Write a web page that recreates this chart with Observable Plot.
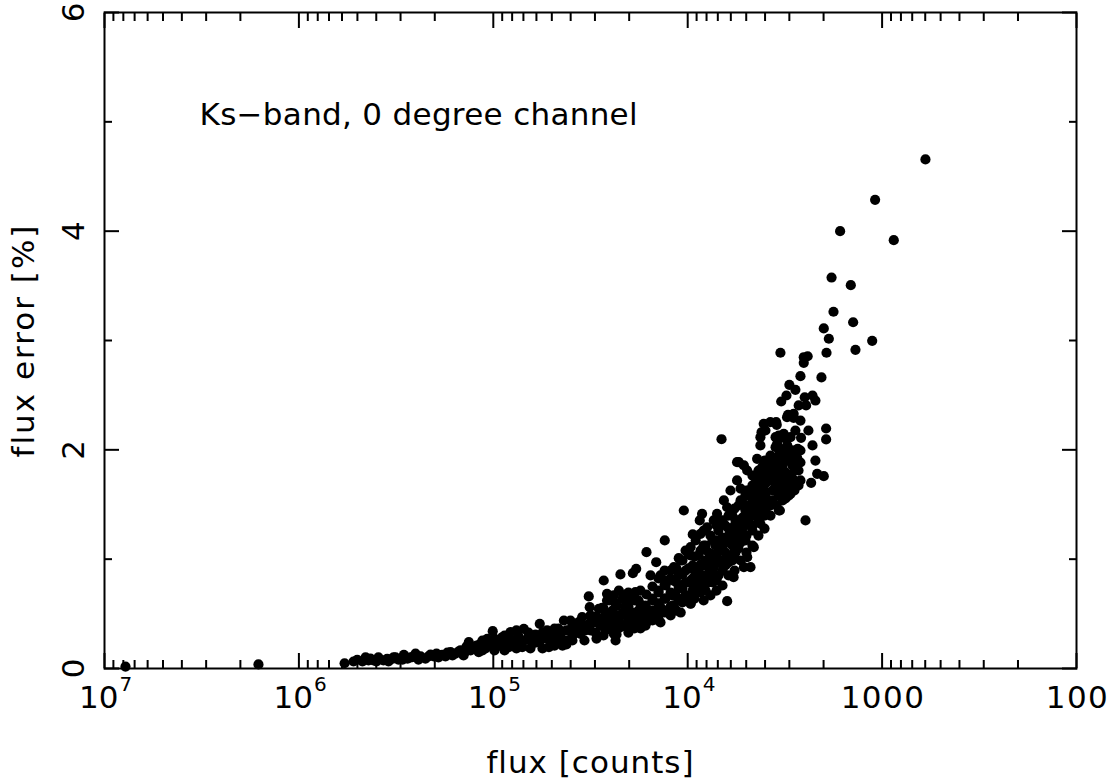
<!DOCTYPE html>
<html><head><meta charset="utf-8">
<script src="https://cdn.jsdelivr.net/npm/d3@7"></script>
<script src="https://cdn.jsdelivr.net/npm/@observablehq/plot@0.6"></script>
<style>body{margin:0;background:#fff} #chart{width:1114px;height:780px}</style>
</head><body><div id="chart"></div>
<script>
// Each point: [log10(flux in counts), flux error in %]
const tailPoints = [
  [6.892,0.018],[6.208,0.037],[5.765,0.048],[5.700,0.080],[5.657,0.103],[5.616,0.073],[5.565,0.073],[5.520,0.089],
  [5.546,0.089],[5.503,0.103],[5.460,0.125],[5.417,0.103],[5.374,0.110],[5.306,0.110],[5.263,0.125],[5.220,0.149],
  [5.169,0.165],[5.126,0.241],[5.075,0.149],[5.673,0.064],[5.632,0.091],[5.591,0.101],[5.539,0.064],[5.488,0.082],
  [5.441,0.091],[5.400,0.137],[5.349,0.091],[5.323,0.128],[5.282,0.101],[5.246,0.110],[5.195,0.137],[5.153,0.119],
  [5.117,0.165],[5.138,0.201],
  [5.719,0.064],[5.642,0.073],[5.601,0.064],[5.513,0.101],[5.467,0.082],[5.426,0.101],[5.385,0.082],[5.333,0.110],
  [5.292,0.137],[5.236,0.146],[5.210,0.119],[5.179,0.155],[5.148,0.146],[5.102,0.192]
];
const lowBandPoints = [
  [5.066,0.226],[5.031,0.272],[5.003,0.341],[4.954,0.286],[4.963,0.210],[4.912,0.332],[4.920,0.195],[4.843,0.363],
  [4.851,0.195],[4.800,0.226],[4.761,0.409],[4.723,0.348],[4.714,0.195],[4.671,0.256],[4.637,0.439],[4.603,0.439],
  [4.620,0.256],[4.543,0.469],[4.509,0.659],[4.504,0.561],[4.551,0.317],[4.483,0.423],[4.457,0.546],
  [5.040,0.183],[5.014,0.238],[4.989,0.192],[4.937,0.256],[4.886,0.229],[4.870,0.293],[4.824,0.274],[4.783,0.311],
  [4.757,0.256],[4.696,0.320],[4.665,0.366],[4.644,0.210],[4.593,0.302],[4.577,0.366],[4.526,0.348],[4.500,0.421],
  [4.474,0.329],[4.469,0.476],[4.449,0.393],[4.819,0.329],[4.731,0.284],
  [5.086,0.210],[5.056,0.165],[5.056,0.256],[5.025,0.210],[4.994,0.165],[4.994,0.274],[4.973,0.238],[4.942,0.165],
  [4.942,0.302],[4.901,0.256],[4.881,0.183],[4.881,0.348],[4.840,0.256],[4.809,0.183],[4.809,0.302],[4.778,0.238],
  [4.747,0.329],[4.747,0.183],[4.711,0.256],[4.685,0.210],[4.685,0.366],[4.654,0.293],[4.624,0.348],[4.624,0.220],
  [4.593,0.393],[4.593,0.256],[4.562,0.329],[4.562,0.421],[4.531,0.256],[4.531,0.393],[4.500,0.348],[4.500,0.485],
  [4.469,0.274],[4.469,0.421]
];
const midBandPoints = [
  [4.432,0.805],[4.415,0.683],[4.380,0.668],[4.354,0.713],[4.312,0.683],[4.269,0.698],[4.346,0.860],[4.265,0.912],
  [4.282,0.872],[4.212,1.064],[4.191,0.851],[4.162,0.972],[4.118,1.171],[4.046,1.009],[4.011,1.079],[3.974,1.226],
  [4.020,1.445],[3.926,1.415],[3.938,1.354],[4.440,0.555],[4.380,0.317],
  [4.423,0.485],[4.423,0.393],[4.423,0.348],[4.387,0.530],[4.387,0.421],[4.356,0.457],[4.356,0.366],
  [4.320,0.576],[4.320,0.485],[4.320,0.393],[4.284,0.512],[4.284,0.421],[4.253,0.622],[4.253,0.530],[4.253,0.439],
  [4.217,0.576],[4.217,0.485],[4.217,0.393],[4.181,0.640],[4.181,0.530],[4.181,0.439],[4.150,0.713],[4.150,0.595],
  [4.150,0.485],[4.114,0.759],[4.114,0.640],[4.114,0.530],[4.078,0.805],[4.078,0.668],[4.078,0.576],[4.047,0.851],
  [4.047,0.732],[4.047,0.622],[4.011,0.896],[4.011,0.787],[4.011,0.668],[3.975,0.942],[3.975,0.823],[3.975,0.713],
  [3.944,1.034],[3.944,0.896],[3.944,0.759],[4.140,0.851],[4.140,0.421],[4.088,0.896],[4.088,0.485],[4.036,0.988],
  [4.036,0.512],[3.985,1.034],[3.985,0.595],[3.959,1.171],[3.959,0.851],[4.243,0.713],[4.243,0.366],[4.305,0.640],
  [4.305,0.329],[4.371,0.595],[4.371,0.256],
  [3.985,1.110],[3.934,1.079],[3.882,1.049],[4.071,0.927],[4.037,0.866],[3.985,0.805],[3.934,0.744],[4.106,0.805],
  [4.037,0.744],[4.003,0.622],[3.985,0.592],[4.071,0.561],[4.140,0.561],[4.208,0.500],[4.260,0.469],[4.380,0.348],
  [4.346,0.409],[4.277,0.439],[4.380,0.500],[4.415,0.469],[4.449,0.439],[4.415,0.622],
  [4.433,0.302],[4.433,0.439],[4.433,0.549],[4.402,0.366],[4.402,0.494],[4.402,0.622],[4.366,0.311],[4.366,0.457],
  [4.366,0.576],[4.335,0.384],[4.335,0.512],[4.335,0.640],[4.305,0.439],[4.305,0.567],[4.305,0.695],[4.274,0.366],
  [4.274,0.494],[4.274,0.622],[4.243,0.457],[4.243,0.585],[4.212,0.421],[4.212,0.549],[4.212,0.677],[4.181,0.494],
  [4.181,0.622],[4.181,0.750],[4.150,0.439],[4.150,0.567],[4.150,0.695],[4.150,0.823],[4.119,0.512],[4.119,0.640],
  [4.119,0.768],[4.119,0.896],[4.088,0.567],[4.088,0.695],[4.088,0.823],[4.058,0.530],[4.058,0.659],[4.058,0.787],
  [4.058,0.915],[4.027,0.604],[4.027,0.732],[4.027,0.860],[4.027,0.988],[3.996,0.659],[3.996,0.787],[3.996,0.915],
  [3.996,1.043],[3.965,0.640],[3.965,0.768],[3.965,0.896],[3.965,1.024],[3.934,0.695],[3.934,0.823],[3.934,0.951]
];
const coreBandPoints = [
  [3.908,1.125],[3.908,0.988],[3.908,0.851],[3.908,0.713],[3.872,1.171],[3.872,1.034],[3.872,0.915],[3.872,0.787],
  [3.842,1.262],[3.842,1.098],[3.842,0.970],[3.842,0.851],[3.806,1.308],[3.806,1.171],[3.806,1.061],[3.806,0.942],
  [3.770,1.399],[3.770,1.262],[3.770,1.125],[3.770,0.988],[3.739,1.491],[3.739,1.354],[3.739,1.216],[3.739,1.098],
  [3.703,1.582],[3.703,1.445],[3.703,1.308],[3.703,1.171],[3.667,1.674],[3.667,1.537],[3.667,1.399],[3.667,1.262],
  [3.636,1.738],[3.636,1.610],[3.636,1.491],[3.636,1.354],[3.600,1.811],[3.600,1.692],[3.600,1.582],[3.600,1.445],
  [3.564,1.884],[3.564,1.765],[3.564,1.628],[3.564,1.537],[3.533,1.948],[3.533,1.829],[3.533,1.720],[3.533,1.582],
  [3.497,1.902],[3.497,1.793],[3.497,1.674],[3.497,1.555],[3.461,1.948],[3.461,1.857],[3.461,1.738],
  [3.430,1.884],[3.430,1.811],[3.430,1.674],
  [3.892,1.061],[3.892,0.924],[3.892,0.787],[3.857,1.125],[3.857,0.988],[3.857,0.851],[3.821,1.198],[3.821,1.079],
  [3.821,0.960],[3.790,1.281],[3.790,1.152],[3.790,1.024],[3.754,1.354],[3.754,1.198],[3.754,1.061],[3.718,1.518],
  [3.718,1.381],[3.718,1.244],[3.687,1.628],[3.687,1.491],[3.687,1.372],[3.651,1.701],[3.651,1.564],[3.651,1.427],
  [3.615,1.765],[3.615,1.646],[3.615,1.518],[3.584,1.857],[3.584,1.738],[3.584,1.491],[3.548,1.920],[3.548,1.811],
  [3.548,1.674],[3.512,1.857],[3.512,1.738],[3.512,1.628],
  [3.797,0.616],[3.764,0.835],[3.711,0.927],[3.677,0.927],[3.694,1.018],[3.660,1.110],[3.626,1.324],[3.849,0.835],
  [3.764,1.018],[3.823,0.988],[3.866,0.927],
  [3.746,1.887],[3.694,1.811],[3.617,1.841],[3.557,1.795],[3.497,1.765],[3.471,1.704],[3.548,2.116],[3.506,2.146],
  [3.489,2.299],[3.455,2.329],[3.540,2.055],[3.489,2.010],[3.455,1.994],[3.609,2.238],[3.575,2.253],[3.531,1.445],
  [3.480,1.628],[3.746,1.720],[3.780,1.628],[3.814,1.537],[3.797,1.475],[3.849,1.415],[3.866,1.354],[3.900,1.292],
  [3.934,1.232],[3.660,1.658],[3.609,1.537],[3.677,1.475],
  [3.918,0.622],[3.918,0.759],[3.918,0.942],[3.918,1.125],[3.918,1.262],[3.883,0.668],[3.883,0.851],[3.883,0.988],
  [3.883,1.216],[3.852,0.713],[3.852,0.805],[3.852,1.034],[3.852,1.171],[3.852,1.308],[3.821,0.759],[3.821,0.896],
  [3.821,1.125],[3.821,1.354],[3.790,0.851],[3.790,0.970],[3.790,1.216],[3.790,1.399],[3.759,0.896],[3.759,1.079],
  [3.759,1.308],[3.759,1.463],[3.728,0.988],[3.728,1.152],[3.728,1.280],[3.728,1.537],[3.728,1.646],[3.698,1.061],
  [3.698,1.216],[3.698,1.372],[3.698,1.628],[3.667,1.125],[3.667,1.308],[3.667,1.463],[3.667,1.610],[3.667,1.765],
  [3.636,1.216],[3.636,1.427],[3.636,1.555],[3.636,1.674],[3.636,1.811],[3.605,1.280],[3.605,1.399],[3.605,1.628],
  [3.605,1.738],[3.574,1.399],[3.574,1.491],[3.574,1.720],[3.574,1.829],[3.574,1.948],[3.543,1.491],[3.543,1.628],
  [3.543,1.765],[3.543,1.884],[3.512,1.537],[3.512,1.674],[3.512,1.811],[3.512,1.948],[3.481,1.582],[3.481,1.765],
  [3.481,1.902],[3.481,2.012],[3.451,1.628],[3.451,1.811],[3.451,1.948],[3.420,1.720],[3.420,1.884],[3.420,1.994]
];
const upperTailPoints = [
  [3.826,2.097],[3.620,2.161],[3.600,2.177],[3.626,2.116],[3.545,2.253],[3.542,2.229],[3.484,2.320],[3.455,2.293],
  [3.532,2.131],[3.506,2.110],[3.471,2.116],[3.417,2.110],[3.548,2.024],[3.523,2.010],[3.488,2.040],[3.434,2.010],
  [3.497,1.933],[3.437,1.927],[3.643,1.918],[3.605,1.902],[3.737,1.887],[3.711,1.857],[3.334,1.781],[3.300,1.759],
  [3.365,1.698],[3.523,1.689],[3.480,1.644],[3.471,1.598],[3.526,1.445],[3.394,1.354],[3.288,2.195],[3.288,2.095],
  [3.429,2.406],[3.391,2.406],[3.398,2.481],[3.492,2.497],[3.519,2.442],[3.477,2.595],[3.446,2.549],[3.420,2.674],
  [3.312,2.662],[3.523,2.888],[3.403,2.847],[3.383,2.856],[3.403,2.796],[3.286,2.888],[3.274,3.016],[3.300,3.110],
  [3.250,3.263],[3.149,3.167],[3.260,3.576],[3.161,3.506],[3.216,4.000],[3.051,2.997],[3.137,2.915],[3.036,4.287],
  [2.940,3.918],[2.777,4.656],
  [3.358,2.040],[3.343,1.902],[3.379,2.177],[3.420,2.268],[3.358,2.497],[3.446,2.177],[3.626,2.040],[3.343,2.451]
];

// Axes
const xMajorTicks = [1e7, 1e6, 1e5, 1e4, 1e3, 1e2];
const xMinorMultipliers = [2, 3, 4, 5, 6, 7, 8, 9];
const xLabelBase = ["10", "10", "10", "10", "1000", "100"];
const xLabelExp = ["7", "6", "5", "4", "", ""];
const yMajorTicks = [0, 2, 4, 6];
const yMinorTicks = [1, 3, 5];
const yTickLabels = ["0", "2", "4", "6"];
const xTitle = "flux [counts]";
const yTitle = "flux error [%]";
const annotation = "Ks\u2212band, 0 degree channel";

const points = [...tailPoints, ...lowBandPoints, ...midBandPoints, ...coreBandPoints, ...upperTailPoints]
  .map(([lf, e]) => ({flux: 10 ** lf, err: e}));
const xMinorTicks = xMajorTicks.slice(1).flatMap(d => xMinorMultipliers.map(m => m * d));
const xLabels = xMajorTicks.map((v, i) => ({value: v, base: xLabelBase[i], exp: xLabelExp[i]}));
const powerLabels = xLabels.filter(d => d.exp);
const plainLabels = xLabels.filter(d => !d.exp);
const yLabels = yMajorTicks.map((v, i) => ({value: v, label: yTickLabels[i]}));

const font = "DejaVu Sans";
const fs = 31;

const chart = Plot.plot({
  width: 1114, height: 780,
  marginLeft: 104, marginRight: 38, marginTop: 12, marginBottom: 112,
  style: {fontFamily: font, background: "white", color: "black", overflow: "visible"},
  x: {type: "log", domain: [1e7, 1e2]},
  y: {domain: [0, 6]},
  marks: [
    Plot.dot(points, {x: "flux", y: "err", r: 5.1, fill: "black", stroke: null}),
    Plot.frame({stroke: "black", strokeWidth: 2}),
    ...["bottom", "top"].flatMap(anchor => [
      Plot.axisX(xMajorTicks, {anchor, tickSize: -15, strokeWidth: 2, fill: "none", label: null}),
      Plot.axisX(xMinorTicks, {anchor, tickSize: -8, strokeWidth: 2, fill: "none", label: null})
    ]),
    ...["left", "right"].flatMap(anchor => [
      Plot.axisY(yMajorTicks, {anchor, tickSize: -15, strokeWidth: 2, fill: "none", label: null}),
      Plot.axisY(yMinorTicks, {anchor, tickSize: -8, strokeWidth: 2, fill: "none", label: null})
    ]),
    Plot.text(powerLabels, {x: "value", text: "base", frameAnchor: "bottom", lineAnchor: "bottom", textAnchor: "end", dx: 14, dy: 39, fontSize: fs}),
    Plot.text(powerLabels, {x: "value", text: "exp", frameAnchor: "bottom", lineAnchor: "bottom", textAnchor: "start", dx: 15, dy: 22, fontSize: 20}),
    Plot.text(plainLabels, {x: "value", text: "base", frameAnchor: "bottom", lineAnchor: "bottom", textAnchor: "middle", dx: 1, dy: 39, fontSize: fs}),
    Plot.text(yLabels, {y: "value", text: "label", frameAnchor: "left", rotate: -90, lineAnchor: "bottom", textAnchor: "middle", dx: -21, fontSize: fs}),
    Plot.text([yTitle], {text: d => d, frameAnchor: "left", rotate: -90, lineAnchor: "bottom", textAnchor: "middle", dx: -71, fontSize: fs}),
    Plot.text([xTitle], {text: d => d, frameAnchor: "bottom", lineAnchor: "bottom", textAnchor: "middle", dy: 104, fontSize: fs}),
    Plot.text([annotation], {text: d => d, frameAnchor: "top-left", lineAnchor: "bottom", textAnchor: "start", dx: 95, dy: 112, fontSize: fs})
  ]
});
// slightly wider letter spacing, as in the original plotting font
d3.select(chart).selectAll("text").each(function () {
  const t = this.textContent;
  if (t === yTitle) this.setAttribute("letter-spacing", "2px");
  else if (t === xTitle) this.setAttribute("letter-spacing", "1px");
  else if (t === "1000" || t === "100") this.setAttribute("letter-spacing", "1.5px");
  else if (t === annotation) this.setAttribute("letter-spacing", "0.3px");
});
document.getElementById("chart").appendChild(chart);
</script>
</body></html>
